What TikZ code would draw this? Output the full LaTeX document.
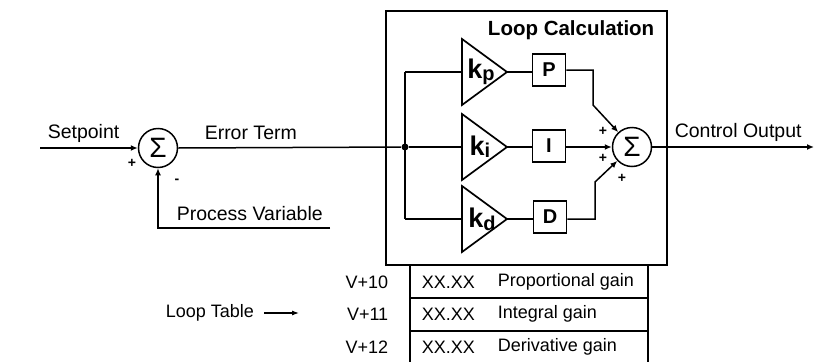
\documentclass[tikz,border=0pt]{standalone}
\usepackage{fontspec}
\setmainfont{Liberation Sans}
\usetikzlibrary{arrows.meta}
\begin{document}
\begin{tikzpicture}[x=1pt,y=-1pt,line width=1.5pt,
  lbl/.style={font=\fontsize{19.5}{21}\selectfont, inner sep=0pt},
  tbl/.style={font=\fontsize{18}{20}\selectfont, inner sep=0pt},
  sumnode/.style={draw, circle, minimum size=39pt, inner sep=0pt, font=\fontsize{28}{29}\selectfont},
  blk/.style={draw, minimum width=33pt, minimum height=32pt, inner sep=0pt, font=\bfseries\fontsize{20}{21}\selectfont},
  gainlbl/.style={inner sep=0pt, font=\bfseries\fontsize{27}{28}\selectfont},
  sgn/.style={inner sep=0pt, font=\bfseries\fontsize{14}{15}\selectfont},
  arr/.style={-{Latex[length=7pt,width=6pt]}},
  dot/.style={circle, fill, inner sep=0pt, minimum size=7pt}]
\useasboundingbox (0,0) rectangle (819,362);

% loop calculation box
\node[draw, line width=1.7pt, minimum width=281pt, minimum height=254pt, inner sep=0pt, anchor=north west] (loop) at (385,10) {};
\node[inner sep=0pt, anchor=east, font=\bfseries\fontsize{20.5}{22}\selectfont] (looplbl) at (655,30) {Loop Calculation};

% summing junction 1
\node[sumnode] (s1) at (158,148) {Σ};
\coordinate (spin) at (40,148);
\node[lbl, anchor=west] (sptxt) at (47,133) {Setpoint};
\draw[arr] (spin) -- (s1.west);
\node[sgn] (p0) at (132,163) {+};
\node[sgn] (m0) at (177,181) {-};
\coordinate (pvend) at (330,228);
\coordinate (pvcorner) at (158,228);
\draw[arr] (pvend) -- (pvcorner) -- (s1.south);
\node[lbl, anchor=west] (pvtxt) at (176,214) {Process Variable};
\node[lbl, anchor=west] (ettxt) at (204,133) {Error Term};

% junction
\node[dot] (j) at (405,147) {};
\draw (s1.east) -- (j);
\coordinate (jtop) at (405,72);
\coordinate (jbot) at (405,219);
\draw (jtop) -- (jbot);

% gain triangles
\coordinate (kpin) at (462,72);  \coordinate (kpout) at (507,72);
\coordinate (kiin) at (462,147); \coordinate (kiout) at (507,147);
\coordinate (kdin) at (462,219); \coordinate (kdout) at (507,219);
\draw[line width=1.7pt] (462,39) -- (kpout) -- (462,105) -- cycle;
\draw[line width=1.7pt] (462,114) -- (kiout) -- (462,180) -- cycle;
\draw[line width=1.7pt] (462,186) -- (kdout) -- (462,252) -- cycle;
\node[gainlbl] (kp) at (481,72) {k\raisebox{-2pt}{\fontsize{20}{21}\selectfont p}};
\node[gainlbl] (ki) at (480,147) {k\raisebox{-2pt}{\fontsize{20}{21}\selectfont i}};
\node[gainlbl] (kd) at (482,219) {k\raisebox{-3pt}{\fontsize{20}{21}\selectfont d}};
\draw (jtop) -- (kpin);
\draw (j) -- (kiin);
\draw (jbot) -- (kdin);

% P I D blocks
\node[blk] (P) at (549,70) {P};
\node[blk] (I) at (549,146) {I};
\node[blk] (D) at (550,217) {D};
\draw (kpout) -- (P.west |- kpout);
\draw (kiout) -- (I.west |- kiout);
\draw (kdout) -- (D.west |- kdout);

% summing junction 2
\node[sumnode] (s2) at (632,147) {Σ};
\coordinate (pc1) at (593,70);
\coordinate (pc2) at (593,105);
\coordinate (dc1) at (595,219);
\coordinate (dc2) at (595,182);
\draw[arr] (P.east) -- (pc1) -- (pc2) -- (s2);
\draw[arr] (I.east |- s2) -- (s2.west);
\draw[arr] (D.east |- dc1) -- (dc1) -- (dc2) -- (s2);
\node[sgn] (p1) at (603,131) {+};
\node[sgn] (p2) at (603,158) {+};
\node[sgn] (p3) at (622,178) {+};

% control output
\coordinate (cout) at (814,147);
\draw[arr] (s2.east) -- (cout);
\node[lbl, anchor=west] (cotxt) at (674,132) {Control Output};

% loop table
\coordinate (tl) at (410,264);
\coordinate (tr) at (648,264);
\coordinate (tlb) at (410,362);
\coordinate (trb) at (648,362);
\draw[line width=1.2pt] (tl) -- (tlb);
\draw[line width=1.2pt] (tr) -- (trb);
\coordinate (r1l) at (410,298); \coordinate (r1r) at (648,298);
\coordinate (r2l) at (410,331); \coordinate (r2r) at (648,331);
\draw[line width=1.2pt] (r1l) -- (r1r);
\draw[line width=1.2pt] (r2l) -- (r2r);

\node[tbl, anchor=east] (a1) at (389,282) {V+10};
\node[tbl, anchor=east] (a2) at (389,314) {V+11};
\node[tbl, anchor=east] (a3) at (389,347) {V+12};
\node[tbl, anchor=west] (x1) at (421,282) {XX.XX};
\node[tbl, anchor=west] (x2) at (421,314) {XX.XX};
\node[tbl, anchor=west] (x3) at (421,347) {XX.XX};
\node[tbl, anchor=west] (d1) at (497,282) {Proportional gain};
\node[tbl, anchor=west] (d2) at (497,314) {Integral gain};
\node[tbl, anchor=west] (d3) at (497,347) {Derivative gain};

\node[tbl, anchor=west] (lt) at (165,313) {Loop Table};
\coordinate (ltstart) at (264,313);
\coordinate (ltarr) at (299,313);
\draw[-{Latex[length=7pt,width=5pt]}, line width=1.1pt] (ltstart) -- (ltarr);
\end{tikzpicture}
\end{document}
